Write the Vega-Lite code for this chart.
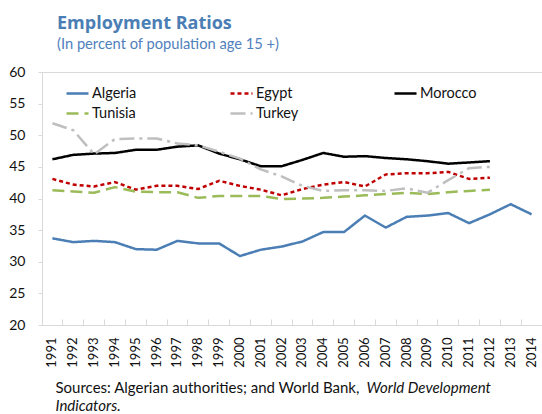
{
  "$schema": "https://vega.github.io/schema/vega-lite/v6.json",
  "width": 500,
  "height": 253,
  "autosize": {"type": "none"},
  "padding": {"left": 42, "top": 72, "right": 0, "bottom": 89},
  "config": {"font": "Lato", "view": {"stroke": null}},
  "title": {
    "text": "Employment Ratios",
    "subtitle": "(In percent of population age 15 +)",
    "anchor": "start",
    "frame": "group",
    "dx": 15,
    "offset": 13,
    "font": "Open Sans",
    "fontSize": 18,
    "fontWeight": "bold",
    "color": "#4a7eb5",
    "subtitleFont": "Lato",
    "subtitleFontSize": 14.7,
    "subtitleColor": "#4f81bd",
    "subtitlePadding": 4
  },
  "data": {"values": [
    {"country": "Algeria", "year": "1991", "value": 33.7},
    {"country": "Algeria", "year": "1992", "value": 33.1},
    {"country": "Algeria", "year": "1993", "value": 33.3},
    {"country": "Algeria", "year": "1994", "value": 33.1},
    {"country": "Algeria", "year": "1995", "value": 32.0},
    {"country": "Algeria", "year": "1996", "value": 31.9},
    {"country": "Algeria", "year": "1997", "value": 33.3},
    {"country": "Algeria", "year": "1998", "value": 32.9},
    {"country": "Algeria", "year": "1999", "value": 32.9},
    {"country": "Algeria", "year": "2000", "value": 30.9},
    {"country": "Algeria", "year": "2001", "value": 31.9},
    {"country": "Algeria", "year": "2002", "value": 32.4},
    {"country": "Algeria", "year": "2003", "value": 33.2},
    {"country": "Algeria", "year": "2004", "value": 34.7},
    {"country": "Algeria", "year": "2005", "value": 34.7},
    {"country": "Algeria", "year": "2006", "value": 37.3},
    {"country": "Algeria", "year": "2007", "value": 35.4},
    {"country": "Algeria", "year": "2008", "value": 37.1},
    {"country": "Algeria", "year": "2009", "value": 37.3},
    {"country": "Algeria", "year": "2010", "value": 37.7},
    {"country": "Algeria", "year": "2011", "value": 36.1},
    {"country": "Algeria", "year": "2012", "value": 37.5},
    {"country": "Algeria", "year": "2013", "value": 39.1},
    {"country": "Algeria", "year": "2014", "value": 37.5},
    {"country": "Egypt", "year": "1991", "value": 43.1},
    {"country": "Egypt", "year": "1992", "value": 42.2},
    {"country": "Egypt", "year": "1993", "value": 41.9},
    {"country": "Egypt", "year": "1994", "value": 42.6},
    {"country": "Egypt", "year": "1995", "value": 41.4},
    {"country": "Egypt", "year": "1996", "value": 42.0},
    {"country": "Egypt", "year": "1997", "value": 42.0},
    {"country": "Egypt", "year": "1998", "value": 41.5},
    {"country": "Egypt", "year": "1999", "value": 42.8},
    {"country": "Egypt", "year": "2000", "value": 42.0},
    {"country": "Egypt", "year": "2001", "value": 41.4},
    {"country": "Egypt", "year": "2002", "value": 40.5},
    {"country": "Egypt", "year": "2003", "value": 41.5},
    {"country": "Egypt", "year": "2004", "value": 42.2},
    {"country": "Egypt", "year": "2005", "value": 42.6},
    {"country": "Egypt", "year": "2006", "value": 41.9},
    {"country": "Egypt", "year": "2007", "value": 43.8},
    {"country": "Egypt", "year": "2008", "value": 44.0},
    {"country": "Egypt", "year": "2009", "value": 44.0},
    {"country": "Egypt", "year": "2010", "value": 44.2},
    {"country": "Egypt", "year": "2011", "value": 43.1},
    {"country": "Egypt", "year": "2012", "value": 43.3},
    {"country": "Morocco", "year": "1991", "value": 46.2},
    {"country": "Morocco", "year": "1992", "value": 46.9},
    {"country": "Morocco", "year": "1993", "value": 47.1},
    {"country": "Morocco", "year": "1994", "value": 47.2},
    {"country": "Morocco", "year": "1995", "value": 47.7},
    {"country": "Morocco", "year": "1996", "value": 47.7},
    {"country": "Morocco", "year": "1997", "value": 48.2},
    {"country": "Morocco", "year": "1998", "value": 48.4},
    {"country": "Morocco", "year": "1999", "value": 47.1},
    {"country": "Morocco", "year": "2000", "value": 46.2},
    {"country": "Morocco", "year": "2001", "value": 45.1},
    {"country": "Morocco", "year": "2002", "value": 45.1},
    {"country": "Morocco", "year": "2003", "value": 46.1},
    {"country": "Morocco", "year": "2004", "value": 47.2},
    {"country": "Morocco", "year": "2005", "value": 46.6},
    {"country": "Morocco", "year": "2006", "value": 46.7},
    {"country": "Morocco", "year": "2007", "value": 46.4},
    {"country": "Morocco", "year": "2008", "value": 46.2},
    {"country": "Morocco", "year": "2009", "value": 45.9},
    {"country": "Morocco", "year": "2010", "value": 45.5},
    {"country": "Morocco", "year": "2011", "value": 45.7},
    {"country": "Morocco", "year": "2012", "value": 45.9},
    {"country": "Tunisia", "year": "1991", "value": 41.3},
    {"country": "Tunisia", "year": "1992", "value": 41.1},
    {"country": "Tunisia", "year": "1993", "value": 40.9},
    {"country": "Tunisia", "year": "1994", "value": 41.8},
    {"country": "Tunisia", "year": "1995", "value": 41.1},
    {"country": "Tunisia", "year": "1996", "value": 41.0},
    {"country": "Tunisia", "year": "1997", "value": 41.0},
    {"country": "Tunisia", "year": "1998", "value": 40.1},
    {"country": "Tunisia", "year": "1999", "value": 40.4},
    {"country": "Tunisia", "year": "2000", "value": 40.4},
    {"country": "Tunisia", "year": "2001", "value": 40.4},
    {"country": "Tunisia", "year": "2002", "value": 39.9},
    {"country": "Tunisia", "year": "2003", "value": 40.0},
    {"country": "Tunisia", "year": "2004", "value": 40.1},
    {"country": "Tunisia", "year": "2005", "value": 40.3},
    {"country": "Tunisia", "year": "2006", "value": 40.5},
    {"country": "Tunisia", "year": "2007", "value": 40.7},
    {"country": "Tunisia", "year": "2008", "value": 40.9},
    {"country": "Tunisia", "year": "2009", "value": 40.7},
    {"country": "Tunisia", "year": "2010", "value": 41.0},
    {"country": "Tunisia", "year": "2011", "value": 41.2},
    {"country": "Tunisia", "year": "2012", "value": 41.4},
    {"country": "Turkey", "year": "1991", "value": 51.9},
    {"country": "Turkey", "year": "1992", "value": 50.8},
    {"country": "Turkey", "year": "1993", "value": 47.0},
    {"country": "Turkey", "year": "1994", "value": 49.4},
    {"country": "Turkey", "year": "1995", "value": 49.5},
    {"country": "Turkey", "year": "1996", "value": 49.5},
    {"country": "Turkey", "year": "1997", "value": 48.7},
    {"country": "Turkey", "year": "1998", "value": 48.4},
    {"country": "Turkey", "year": "1999", "value": 47.4},
    {"country": "Turkey", "year": "2000", "value": 46.3},
    {"country": "Turkey", "year": "2001", "value": 44.6},
    {"country": "Turkey", "year": "2002", "value": 43.5},
    {"country": "Turkey", "year": "2003", "value": 42.0},
    {"country": "Turkey", "year": "2004", "value": 41.2},
    {"country": "Turkey", "year": "2005", "value": 41.3},
    {"country": "Turkey", "year": "2006", "value": 41.3},
    {"country": "Turkey", "year": "2007", "value": 41.2},
    {"country": "Turkey", "year": "2008", "value": 41.6},
    {"country": "Turkey", "year": "2009", "value": 40.9},
    {"country": "Turkey", "year": "2010", "value": 42.9},
    {"country": "Turkey", "year": "2011", "value": 44.8},
    {"country": "Turkey", "year": "2012", "value": 45.0}
  ]},
  "layer": [
    {
      "mark": {"type": "line", "strokeJoin": "round"},
      "encoding": {
        "x": {
          "field": "year", "type": "ordinal",
          "scale": {"type": "band", "paddingInner": 0, "paddingOuter": 0},
          "bandPosition": 0.5,
          "axis": {
            "bandPosition": 0,
            "labelAngle": -90,
            "labelFontSize": 13,
            "labelColor": "#111",
            "labelPadding": 18,
            "tickSize": -6,
            "tickColor": "#d9d9d9",
            "domainColor": "#d9d9d9",
            "grid": false,
            "title": "Sources: Algerian authorities; and World Bank,",
            "titleX": 13,
            "titleY": 67,
            "titleAngle": 0,
            "titleAlign": "left",
            "titleBaseline": "alphabetic",
            "titleFontSize": 15,
            "titleFontWeight": "normal",
            "titleColor": "#111"
          }
        },
        "y": {
          "field": "value", "type": "quantitative",
          "scale": {"domain": [20, 60], "nice": false, "zero": false},
          "axis": {
            "values": [20, 25, 30, 35, 40, 45, 50, 55, 60],
            "labelFontSize": 14,
            "labelColor": "#111",
            "labelPadding": 13,
            "tickSize": 4,
            "tickColor": "#d9d9d9",
            "domainColor": "#d9d9d9",
            "grid": true,
            "gridColor": "#d9d9d9",
            "gridOpacity": {"condition": {"test": "datum.value == 60", "value": 1}, "value": 0},
            "title": "World Development",
            "titleX": 324,
            "titleY": 320,
            "titleAngle": 0,
            "titleAlign": "left",
            "titleBaseline": "alphabetic",
            "titleFontSize": 15,
            "titleFontWeight": "normal",
            "titleFontStyle": "italic",
            "titleColor": "#111"
          }
        },
        "color": {
          "field": "country", "type": "nominal",
          "scale": {"domain": ["Algeria", "Egypt", "Morocco", "Tunisia", "Turkey"],
                    "range": ["#4a7eb5", "#c00000", "#000000", "#9bbb59", "#bfbfbf"]},
          "legend": {
            "orient": "none", "direction": "horizontal", "legendX": 23, "legendY": 9,
            "columns": 3, "gridAlign": "all", "columnPadding": 76, "rowPadding": 1,
            "symbolType": "stroke", "symbolSize": 484, "symbolStrokeWidth": 2.5,
            "labelFontSize": 14.5, "labelOffset": 2, "labelColor": "#111", "title": null
          }
        },
        "strokeDash": {
          "field": "country", "type": "nominal",
          "scale": {"domain": ["Algeria", "Egypt", "Morocco", "Tunisia", "Turkey"],
                    "range": [[1, 0], [4, 3], [1, 0], [12, 6], [15, 5, 3, 5]]},
          "legend": {
            "orient": "none", "direction": "horizontal", "legendX": 23, "legendY": 9,
            "columns": 3, "gridAlign": "all", "columnPadding": 76, "rowPadding": 1,
            "symbolType": "stroke", "symbolSize": 484, "symbolStrokeWidth": 2.5,
            "labelFontSize": 14.5, "labelOffset": 2, "labelColor": "#111", "title": null
          }
        },
        "strokeWidth": {"value": 2.5}
      }
    },
    {
      "mark": {"type": "point", "opacity": 0},
      "encoding": {
        "x": {"field": "year", "type": "ordinal", "scale": {"type": "band", "paddingInner": 0, "paddingOuter": 0}, "bandPosition": 0.5},
        "y": {
          "field": "value", "type": "quantitative",
          "scale": {"domain": [20, 60], "nice": false, "zero": false},
          "axis": {
            "orient": "right",
            "labels": false, "ticks": false, "domain": false, "grid": false,
            "title": "Indicators.",
            "titleX": -487,
            "titleY": 338,
            "titleAngle": 0,
            "titleAlign": "left",
            "titleBaseline": "alphabetic",
            "titleFontSize": 15,
            "titleFontWeight": "normal",
            "titleFontStyle": "italic",
            "titleColor": "#111"
          }
        }
      }
    }
  ],
  "resolve": {"scale": {"y": "independent"}, "axis": {"y": "independent"}}
}
